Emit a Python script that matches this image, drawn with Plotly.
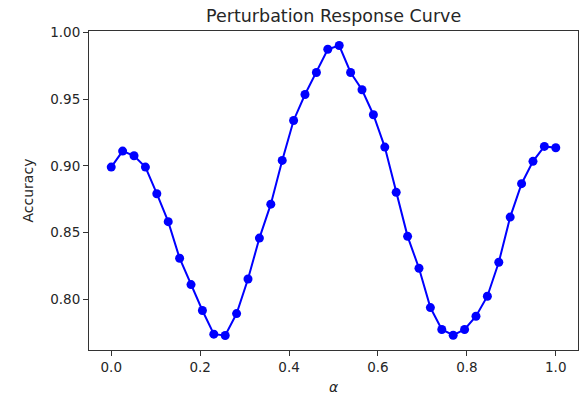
import numpy as np
import plotly.graph_objects as go

alpha = np.linspace(0, 1, 40)
accuracy = [0.8991, 0.9111, 0.9076, 0.8991, 0.8792, 0.8583, 0.8309, 0.8112,
            0.7918, 0.7741, 0.7731, 0.7895, 0.8154, 0.8460, 0.8714, 0.9041,
            0.9340, 0.9534, 0.9699, 0.9873, 0.9901, 0.9699, 0.9570, 0.9383,
            0.9141, 0.8802, 0.8473, 0.8234, 0.7940, 0.7776, 0.7733, 0.7776,
            0.7875, 0.8025, 0.8279, 0.8617, 0.8867, 0.9034, 0.9146, 0.9136]

x_ticks = [0.0, 0.2, 0.4, 0.6, 0.8, 1.0]
x_tick_text = ["0.0", "0.2", "0.4", "0.6", "0.8", "1.0"]
y_ticks = [0.80, 0.85, 0.90, 0.95, 1.00]
y_tick_text = ["0.80", "0.85", "0.90", "0.95", "1.00"]

title = "Perturbation Response Curve"
x_label = "<i>α</i>"
y_label = "Accuracy"

FONT = "DejaVu Sans"
TXT = "#262626"

fig = go.Figure()
fig.add_trace(go.Scatter(
    x=alpha, y=accuracy, mode="lines+markers",
    line=dict(color="#0000ff", width=2),
    marker=dict(color="#0000ff", size=9),
    hoverinfo="skip", showlegend=False,
))

lo, hi = min(accuracy), max(accuracy)
pad = (hi - lo) * 0.05

axis_common = dict(
    showline=True, linecolor="#333333", linewidth=1, mirror=True,
    ticks="outside", ticklen=5, tickwidth=1, tickcolor="#333333",
    showgrid=False, zeroline=False,
    tickfont=dict(family=FONT, size=13.5, color=TXT),
)

fig.update_layout(
    width=579, height=394,
    margin=dict(l=89, r=1, t=31, b=44),
    paper_bgcolor="white", plot_bgcolor="white",
    font=dict(family=FONT, color=TXT),
    xaxis=dict(range=[-0.05, 1.05], tickvals=x_ticks, ticktext=x_tick_text, **axis_common),
    yaxis=dict(range=[lo - pad, hi + pad], tickvals=y_ticks, ticktext=y_tick_text, **axis_common),
    annotations=[
        dict(text=title, xref="paper", yref="paper", x=0.5, y=1, yshift=3,
             xanchor="center", yanchor="bottom", showarrow=False,
             font=dict(family=FONT, size=17.5, color=TXT)),
        dict(text=x_label, xref="paper", yref="paper", x=0.5, y=0, yshift=-27,
             xanchor="center", yanchor="top", showarrow=False,
             font=dict(family=FONT, size=14, color=TXT)),
        dict(text=y_label, xref="paper", yref="paper", x=0, xshift=-52, y=0.5,
             xanchor="right", yanchor="middle", textangle=-90, showarrow=False,
             font=dict(family=FONT, size=14, color=TXT)),
    ],
)

fig.write_html("out.html")
